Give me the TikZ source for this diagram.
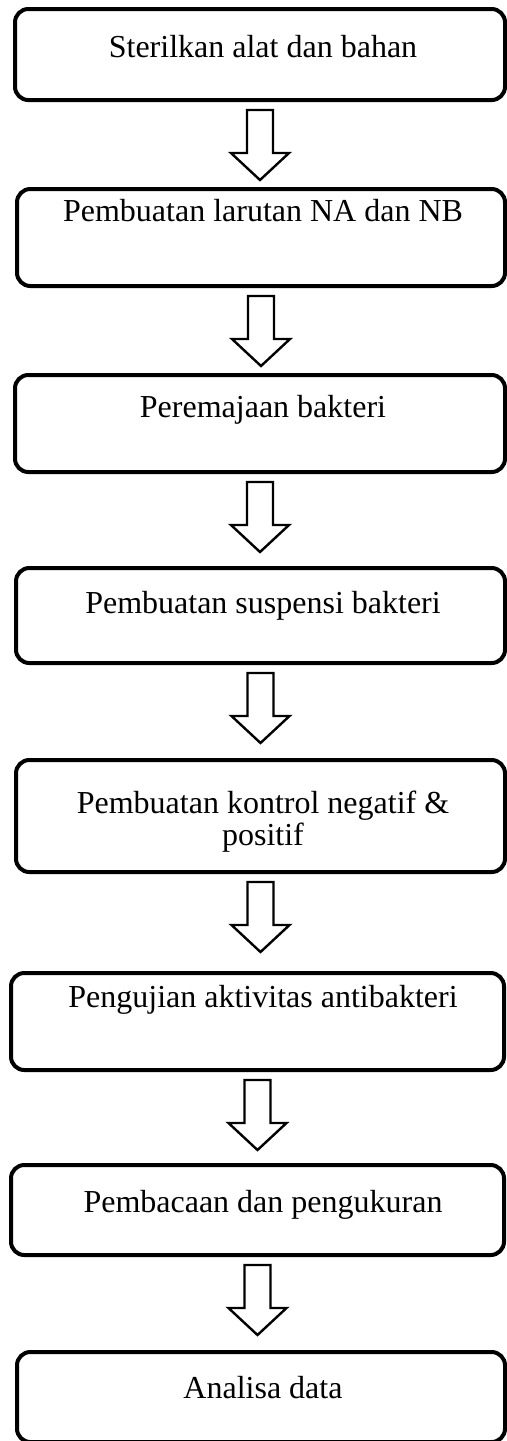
\documentclass[tikz,border=0pt]{standalone}
\usepackage{fontspec}
\setmainfont{Liberation Serif}
\usetikzlibrary{calc,fit}

\tikzset{
    stepbox/.style={draw, line width=1.5pt, rounded corners=5pt, inner sep=0pt},
    steptext/.style={font=\fontsize{12}{12}\selectfont, inner sep=0pt, align=center},
    blockarrow/.style={draw, line width=0.9pt, line join=miter, fill=white}
}

\begin{document}
\begin{tikzpicture}[x=0.375pt, y=-0.375pt]
    \useasboundingbox (0,0) rectangle (507,1441);

    % Step boxes
    \foreach \n/\l/\t/\r/\b in {1/15/9/505/100, 2/17/189/505/286, 3/15/375/505/472, 4/16/568/505/663,
                                5/16/760/505/872, 6/11/973/504/1070, 7/11/1165/504/1255, 8/17/1352/505/1442} {
        \node[stepbox, fit={(\l,\t) (\r,\b)}] (b\n) {};
    }

    % Step texts
    \node[steptext, anchor=base] (t1) at (263,57) {Sterilkan alat dan bahan};
    \node[steptext, anchor=base] (t2) at (263,221) {Pembuatan larutan NA dan NB};
    \node[steptext, anchor=base] (t3) at (263,417) {Peremajaan bakteri};
    \node[steptext, anchor=base] (t4) at (263,613) {Pembuatan suspensi bakteri};
    \node[steptext, anchor=north] (t5) at (263,790) {Pembuatan kontrol negatif \&\\positif};
    \node[steptext, anchor=base] (t6) at (263,1007) {Pengujian aktivitas antibakteri};
    \node[steptext, anchor=base] (t7) at (263,1212) {Pembacaan dan pengukuran};
    \node[steptext, anchor=base] (t8) at (263,1398) {Analisa data};

    % Block arrows under each step
    \foreach \i in {1,...,7} {
        \draw[blockarrow] ([shift={(-13,8)}]b\i.south) -- ++(26,0) -- ++(0,43) -- ++(16,0)
            -- ++(-29,27) -- ++(-29,-27) -- ++(16,0) -- cycle;
    }
\end{tikzpicture}
\end{document}
